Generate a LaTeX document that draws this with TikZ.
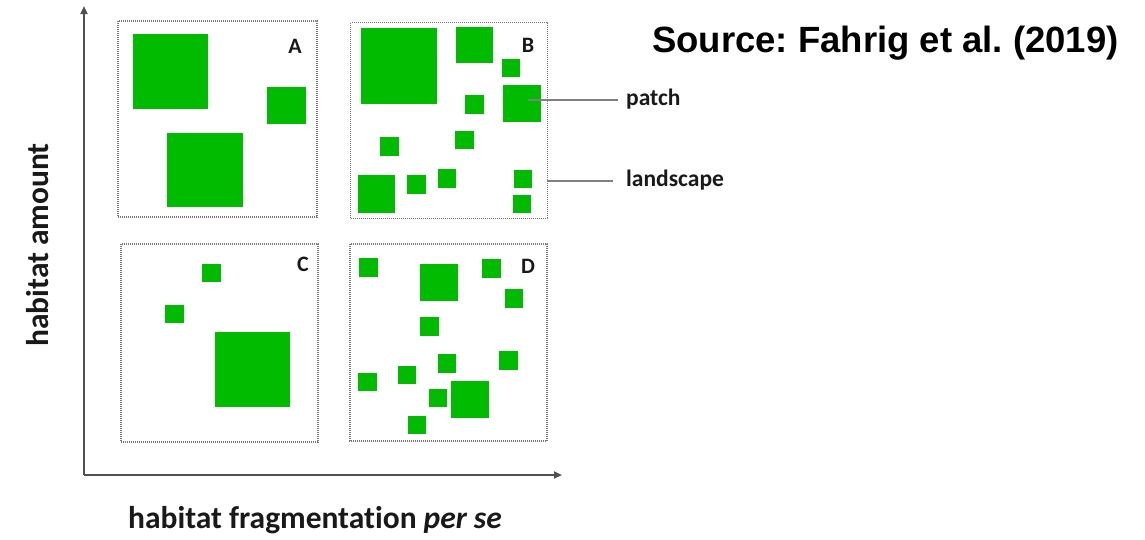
\documentclass[tikz,border=0pt]{standalone}
\usepackage{fontspec}
\setmainfont{Carlito}[Ligatures=NoCommon]
\newfontfamily\arialfont{Liberation Sans}
\usetikzlibrary{arrows.meta}
\definecolor{habgreen}{RGB}{0,187,0}
\definecolor{axisgray}{RGB}{80,80,80}
\definecolor{linegray}{RGB}{128,128,128}
\definecolor{framegray}{RGB}{120,120,120}
\frenchspacing
\begin{document}
\begin{tikzpicture}[x=1pt,y=-1pt,
  panelbox/.style={draw=framegray, line width=1.1pt, dash pattern=on 1pt off 1pt},
  hab/.style={fill=habgreen},
  axisline/.style={draw=axisgray, line width=2.2pt, -{Triangle[length=8pt,width=7pt]}},
  leader/.style={draw=linegray, line width=1.5pt},
  letter/.style={font=\fontsize{22}{24}\selectfont\bfseries, text=black!90, inner sep=0pt},
  lbl/.style={font=\fontsize{23.5}{26}\selectfont\bfseries, text=black!90, anchor=west},
  axlbl/.style={font=\fontsize{31.5}{34}\selectfont\bfseries, text=black!90, inner sep=0pt}
]
\useasboundingbox (0,0) rectangle (1145,539);
\fill[white] (0,0) rectangle (1145,539);

% axes
\coordinate (origin) at (84,475);
\coordinate (xend) at (562,475);
\coordinate (yend) at (84,6);
\draw[axisline] (origin) -- (xend);
\draw[axisline] (origin) -- (yend);

% panel A
\draw[panelbox] (118,21) rectangle (317,217);
\fill[hab] (133,34) rectangle (208,109);
\fill[hab] (267,87) rectangle (306,124);
\fill[hab] (167,133) rectangle (243,207);
\node[letter] (labA) at (295,46) {A};

% panel B
\node[panelbox, minimum width=197pt, minimum height=196pt, inner sep=0pt, anchor=north west] (panelB) at (350,22) {};
\fill[hab] (361,28) rectangle (437,104);
\fill[hab] (456,27) rectangle (493,63);
\fill[hab] (502,59) rectangle (520,77);
\node[hab, minimum width=38pt, minimum height=37pt, inner sep=0pt, anchor=north west] (patchsq) at (503,85) {};
\fill[hab] (465,95) rectangle (484,114);
\fill[hab] (455,131) rectangle (474,149);
\fill[hab] (380,137) rectangle (399,156);
\fill[hab] (358,175) rectangle (395,213);
\fill[hab] (407,175) rectangle (426,194);
\fill[hab] (438,169) rectangle (456,188);
\fill[hab] (514,170) rectangle (532,188);
\fill[hab] (513,195) rectangle (531,213);
\node[letter] (labB) at (528,45) {B};

% panel C
\draw[panelbox] (121,244) rectangle (318,442);
\fill[hab] (202,264) rectangle (221,282);
\fill[hab] (165,305) rectangle (184,323);
\fill[hab] (215,332) rectangle (290,407);
\node[letter] (labC) at (303,264) {C};

% panel D
\draw[panelbox] (350,244) rectangle (547,441);
\fill[hab] (359,258) rectangle (378,277);
\fill[hab] (420,264) rectangle (458,301);
\fill[hab] (482,259) rectangle (501,278);
\fill[hab] (505,289) rectangle (523,308);
\fill[hab] (420,317) rectangle (439,336);
\fill[hab] (438,354) rectangle (456,373);
\fill[hab] (499,351) rectangle (518,370);
\fill[hab] (358,373) rectangle (377,391);
\fill[hab] (398,366) rectangle (416,384);
\fill[hab] (429,389) rectangle (447,407);
\fill[hab] (451,381) rectangle (489,418);
\fill[hab] (408,416) rectangle (426,434);
\node[letter] (labD) at (528,266) {D};

% leaders and labels
\coordinate (pstart) at (528,100);
\coordinate (lstart) at (547,181);
\node[lbl, inner xsep=8pt] (patch) at (618,99) {patch};
\node[lbl, inner xsep=13pt] (landscape) at (613,180) {landscape};
\draw[leader] (pstart) -- (pstart -| patch.west);
\draw[leader] (lstart) -- (lstart -| landscape.west);

% axis labels
\node[axlbl, rotate=90] (ylab) at (38,245) {habitat amount};
\node[axlbl] (xlab) at (315,520) {habitat fragmentation \textit{per se}};

% source
\node[font=\arialfont\fontsize{36.5}{40}\selectfont\bfseries, anchor=base west, inner sep=0pt] (src) at (652,52) {Source: Fahrig et al. (2019)};
\end{tikzpicture}
\end{document}
